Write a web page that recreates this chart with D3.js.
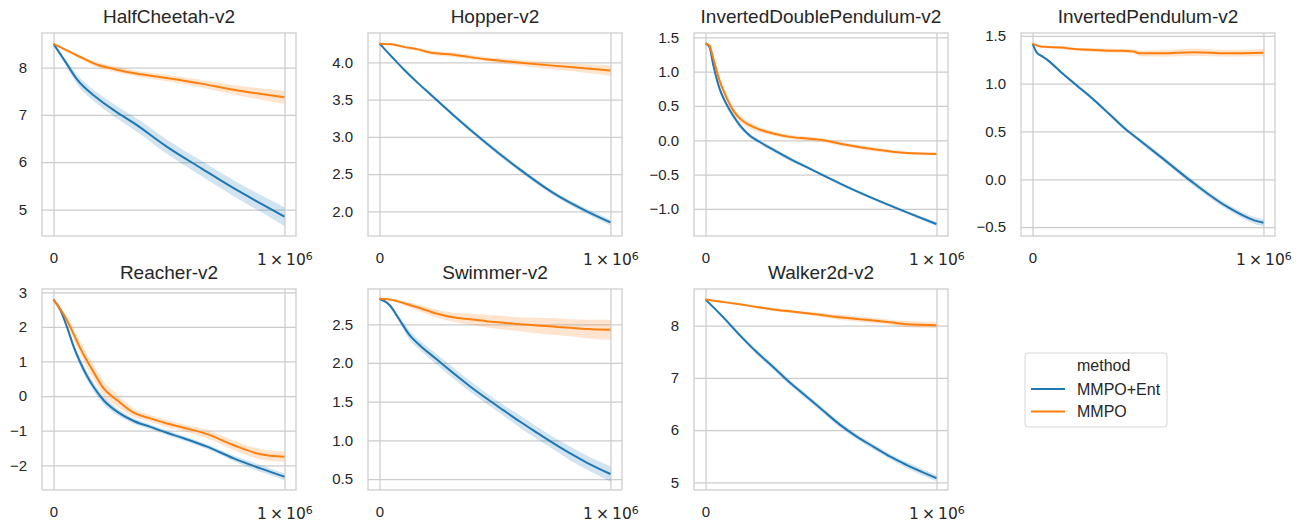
<!DOCTYPE html>
<html>
<head>
<meta charset="utf-8">
<script src="https://cdn.jsdelivr.net/npm/d3@7"></script>
<style>
  body { margin: 0; background: #fff; }
  text { font-family: "Liberation Sans", Arial, sans-serif; fill: #262626; }
</style>
</head>
<body>
<div id="chart"></div>
<script>
// mean curves + half width of the shaded band
const methods = ["MMPO+Ent", "MMPO"];
const colors = ["#1f77b4", "#ff7f0e"];

const halfCheetahSteps = [0, 50e3, 100e3, 190e3, 270e3, 350e3, 490e3, 640e3, 780e3, 900e3, 1e6];
const halfCheetahEnt   = [8.50, 8.13, 7.76, 7.35, 7.07, 6.82, 6.33, 5.87, 5.45, 5.12, 4.85];
const halfCheetahEntCi = [0.01, 0.05, 0.10, 0.12, 0.13, 0.14, 0.15, 0.16, 0.17, 0.18, 0.20];
const halfCheetahMmpo  = [8.50, 8.38, 8.26, 8.06, 7.96, 7.88, 7.78, 7.66, 7.53, 7.44, 7.37];
const halfCheetahMmpoCi= [0.01, 0.02, 0.03, 0.05, 0.06, 0.06, 0.07, 0.08, 0.10, 0.12, 0.14];

const hopperSteps = [0, 60e3, 100e3, 170e3, 220e3, 320e3, 460e3, 610e3, 750e3, 900e3, 1e6];
const hopperEnt   = [4.25, 4.05, 3.92, 3.71, 3.57, 3.29, 2.92, 2.555, 2.25, 1.995, 1.85];
const hopperEntCi = [0.005, 0.01, 0.015, 0.02, 0.02, 0.025, 0.03, 0.03, 0.03, 0.035, 0.04];
const hopperMmpo  = [4.25, 4.24, 4.21, 4.17, 4.13, 4.10, 4.04, 3.995, 3.955, 3.915, 3.89];
const hopperMmpoCi= [0.005, 0.01, 0.015, 0.02, 0.025, 0.03, 0.03, 0.04, 0.05, 0.06, 0.07];

const idpSteps = [0, 17e3, 32e3, 61e3, 90e3, 119e3, 148e3, 191e3, 235e3, 293e3, 365e3, 438e3, 510e3, 583e3, 728e3, 872e3, 1e6];
const idpEnt   = [1.41, 1.36, 1.12, 0.75, 0.53, 0.36, 0.22, 0.07, -0.025, -0.135, -0.27, -0.39, -0.51, -0.63, -0.85, -1.05, -1.22];
const idpEntCi = [0.01, 0.02, 0.03, 0.04, 0.04, 0.04, 0.04, 0.03, 0.03, 0.03, 0.03, 0.02, 0.02, 0.02, 0.02, 0.02, 0.03];
const idpMmpo  = [1.41, 1.38, 1.21, 0.87, 0.63, 0.44, 0.32, 0.22, 0.155, 0.10, 0.05, 0.025, 0.0, -0.05, -0.13, -0.185, -0.20];
const idpMmpoCi= [0.01, 0.02, 0.04, 0.05, 0.05, 0.05, 0.05, 0.05, 0.04, 0.03, 0.03, 0.03, 0.03, 0.03, 0.03, 0.02, 0.02];

const ipSteps = [0, 20e3, 35e3, 64e3, 121e3, 194e3, 266e3, 338e3, 410e3, 439e3, 468e3, 555e3, 700e3, 844e3, 960e3, 1e6];
const ipEnt   = [1.42, 1.32, 1.296, 1.25, 1.126, 0.977, 0.83, 0.67, 0.51, 0.455, 0.40, 0.234, -0.045, -0.29, -0.43, -0.455];
const ipEntCi = [0.005, 0.01, 0.01, 0.015, 0.015, 0.02, 0.02, 0.02, 0.02, 0.02, 0.025, 0.025, 0.03, 0.03, 0.035, 0.04];
const ipMmpo  = [1.42, 1.40, 1.39, 1.385, 1.38, 1.36, 1.353, 1.346, 1.343, 1.336, 1.318, 1.318, 1.33, 1.318, 1.322, 1.325];
const ipMmpoCi= [0.005, 0.01, 0.01, 0.01, 0.015, 0.015, 0.02, 0.02, 0.02, 0.025, 0.03, 0.035, 0.04, 0.035, 0.035, 0.04];

const reacherSteps = [0, 30e3, 58e3, 87e3, 116e3, 145e3, 173e3, 217e3, 275e3, 347e3, 419e3, 491e3, 564e3, 665e3, 780e3, 896e3, 1e6];
const reacherEnt   = [2.79, 2.48, 2.0, 1.43, 0.97, 0.58, 0.27, -0.12, -0.45, -0.72, -0.89, -1.06, -1.22, -1.46, -1.80, -2.09, -2.33];
const reacherEntCi = [0.02, 0.04, 0.07, 0.10, 0.12, 0.12, 0.12, 0.12, 0.10, 0.08, 0.07, 0.07, 0.07, 0.07, 0.08, 0.10, 0.10];
const reacherMmpo  = [2.79, 2.51, 2.19, 1.79, 1.38, 1.02, 0.70, 0.22, -0.12, -0.48, -0.645, -0.79, -0.915, -1.10, -1.42, -1.68, -1.75];
const reacherMmpoCi= [0.02, 0.05, 0.10, 0.15, 0.18, 0.20, 0.20, 0.20, 0.18, 0.12, 0.10, 0.10, 0.10, 0.12, 0.14, 0.15, 0.15];

const swimmerSteps = [0, 43e3, 87e3, 130e3, 174e3, 246e3, 319e3, 391e3, 464e3, 536e3, 609e3, 681e3, 754e3, 826e3, 899e3, 1e6];
const swimmerEnt   = [2.83, 2.75, 2.556, 2.36, 2.23, 2.05, 1.87, 1.70, 1.54, 1.39, 1.24, 1.10, 0.96, 0.83, 0.71, 0.565];
const swimmerEntCi = [0.01, 0.02, 0.04, 0.06, 0.06, 0.07, 0.07, 0.07, 0.07, 0.07, 0.08, 0.08, 0.08, 0.09, 0.09, 0.10];
const swimmerMmpo  = [2.83, 2.82, 2.79, 2.75, 2.71, 2.64, 2.59, 2.565, 2.54, 2.52, 2.50, 2.485, 2.47, 2.455, 2.44, 2.43];
const swimmerMmpoCi= [0.01, 0.01, 0.02, 0.03, 0.04, 0.05, 0.06, 0.07, 0.08, 0.09, 0.09, 0.10, 0.11, 0.11, 0.12, 0.13];

const walkerSteps = [0, 75e3, 148e3, 220e3, 293e3, 365e3, 438e3, 510e3, 583e3, 655e3, 728e3, 800e3, 872e3, 1e6];
const walkerEnt   = [8.5, 8.17, 7.82, 7.50, 7.21, 6.91, 6.64, 6.37, 6.10, 5.875, 5.68, 5.49, 5.33, 5.08];
const walkerEntCi = [0.01, 0.03, 0.04, 0.05, 0.05, 0.05, 0.05, 0.05, 0.05, 0.05, 0.05, 0.05, 0.06, 0.06];
const walkerMmpo  = [8.5, 8.455, 8.41, 8.36, 8.31, 8.275, 8.24, 8.20, 8.16, 8.13, 8.10, 8.065, 8.03, 8.01];
const walkerMmpoCi= [0.01, 0.01, 0.02, 0.02, 0.03, 0.03, 0.03, 0.04, 0.05, 0.05, 0.05, 0.05, 0.06, 0.06];

// axis ticks / limits per panel
const envTitles = ["HalfCheetah-v2", "Hopper-v2", "InvertedDoublePendulum-v2", "InvertedPendulum-v2",
                   "Reacher-v2", "Swimmer-v2", "Walker2d-v2"];
const yTicks = [[5, 6, 7, 8], [2.0, 2.5, 3.0, 3.5, 4.0], [-1.0, -0.5, 0.0, 0.5, 1.0, 1.5], [-0.5, 0.0, 0.5, 1.0, 1.5],
                [-2, -1, 0, 1, 2, 3], [0.5, 1.0, 1.5, 2.0, 2.5], [5, 6, 7, 8]];
const yDecimals = [0, 1, 1, 1, 0, 1, 0];
const yLimits = [[4.44, 8.73], [1.668, 4.393], [-1.394, 1.563], [-0.594, 1.531],
                 [-2.714, 3.095], [0.358, 2.956], [4.853, 8.703]];
const xTicks = [0, 1e6];

const panels = [
  [halfCheetahSteps, halfCheetahEnt, halfCheetahEntCi, halfCheetahMmpo, halfCheetahMmpoCi],
  [hopperSteps, hopperEnt, hopperEntCi, hopperMmpo, hopperMmpoCi],
  [idpSteps, idpEnt, idpEntCi, idpMmpo, idpMmpoCi],
  [ipSteps, ipEnt, ipEntCi, ipMmpo, ipMmpoCi],
  [reacherSteps, reacherEnt, reacherEntCi, reacherMmpo, reacherMmpoCi],
  [swimmerSteps, swimmerEnt, swimmerEntCi, swimmerMmpo, swimmerMmpoCi],
  [walkerSteps, walkerEnt, walkerEntCi, walkerMmpo, walkerMmpoCi]
];

const W = 1299, H = 522;
const colLeft = [42, 368, 694, 1021];
const rowTop = [33, 289];
const pw = 254, ph = [203, 201];
const gridColor = "#cccccc";

const svg = d3.select("#chart").append("svg")
  .attr("width", W).attr("height", H)
  .style("background-color", "white");

const fmtMinus = (v, dec) => d3.format("." + dec + "f")(v).replace("-", "\u2212");

panels.forEach((p, i) => {
  const [steps, ent, entCi, mmpo, mmpoCi] = p;
  const col = i % 4, row = Math.floor(i / 4);
  const w = pw, h = ph[row];

  const g = svg.append("g").attr("transform", `translate(${colLeft[col]},${rowTop[row]})`);

  const x = d3.scaleLinear().domain([-0.05e6, 1.05e6]).range([0, w]);
  const y = d3.scaleLinear().domain(yLimits[i]).range([h, 0]);

  // grid + tick labels
  const yAx = g.append("g")
    .call(d3.axisLeft(y).tickValues(yTicks[i]).tickSize(-w).tickPadding(15)
      .tickFormat(d => fmtMinus(d, yDecimals[i])));
  const xAx = g.append("g")
    .attr("transform", `translate(0,${h})`)
    .call(d3.axisBottom(x).tickValues(xTicks).tickSize(h).tickPadding(16)
      .tickFormat(d => d === 0 ? "0" : ""));
  xAx.selectAll(".tick line").attr("y1", 0).attr("y2", -h);
  xAx.selectAll(".tick text").attr("y", 16);

  [yAx, xAx].forEach(a => {
    a.select(".domain").remove();
    a.selectAll(".tick line").attr("stroke", gridColor).attr("stroke-width", 1.25);
    a.selectAll(".tick text").style("font-size", "15px").attr("fill", "#262626")
      .style("font-family", '"Liberation Sans", Arial, sans-serif');
  });

  // the 1e6 label in mathtext style
  xAx.selectAll(".tick text").filter(d => d === 1e6)
    .attr("dy", "0.85em")
    .style("font-family", '"DejaVu Sans", sans-serif')
    .style("font-size", "15.5px")
    .each(function () {
      const t = d3.select(this);
      t.append("tspan").style("font-size", "15.5px").text("1\u2009\u00d7\u200910");
      t.append("tspan").attr("dy", "-0.5em").style("font-size", "11px").text("6");
    });

  g.append("rect").attr("width", w).attr("height", h)
    .attr("fill", "none").attr("stroke", gridColor).attr("stroke-width", 1.25);

  g.append("text").attr("x", w / 2).attr("y", -10)
    .attr("text-anchor", "middle").style("font-size", "19px")
    .text(envTitles[i]);

  const series = [[ent, entCi], [mmpo, mmpoCi]];
  series.forEach(([m, ci], k) => {
    const area = d3.area()
      .x((d, j) => x(steps[j]))
      .y0((d, j) => y(m[j] - ci[j]))
      .y1((d, j) => y(m[j] + ci[j]))
      .curve(d3.curveMonotoneX);
    const line = d3.line()
      .x((d, j) => x(steps[j]))
      .y((d, j) => y(m[j]))
      .curve(d3.curveMonotoneX);
    g.append("path").datum(m).attr("d", area)
      .attr("fill", colors[k]).attr("fill-opacity", 0.2);
    g.append("path").datum(m).attr("d", line)
      .attr("fill", "none").attr("stroke", colors[k]).attr("stroke-width", 2);
  });
});

// legend
const lg = svg.append("g").attr("transform", "translate(1025,353)");
lg.append("rect").attr("width", 142).attr("height", 74).attr("rx", 3)
  .attr("fill", "white").attr("stroke", "#d6d6d6").attr("stroke-width", 1);
lg.append("text").attr("x", 52).attr("y", 18).style("font-size", "16px").text("method");
methods.forEach((m, k) => {
  const yy = 36 + k * 22.6;
  lg.append("line").attr("x1", 6).attr("x2", 40).attr("y1", yy).attr("y2", yy)
    .attr("stroke", colors[k]).attr("stroke-width", 2);
  lg.append("text").attr("x", 52).attr("y", yy + 5.5).style("font-size", "16px").text(m);
});
</script>
</body>
</html>
